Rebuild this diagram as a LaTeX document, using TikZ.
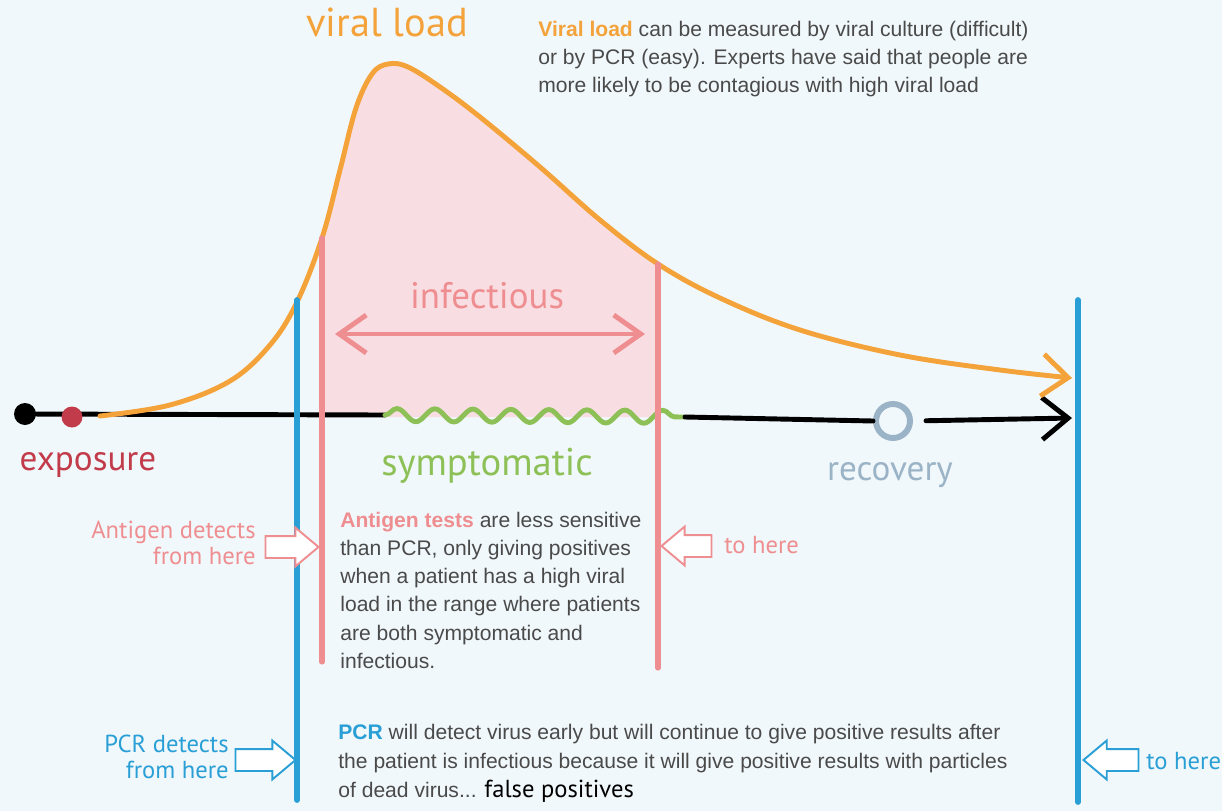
\documentclass[tikz,border=0pt]{standalone}
\usepackage{fontspec}
\setmainfont{Liberation Sans}
\newfontfamily\hand{PT Sans}
\usetikzlibrary{arrows.meta,shapes.arrows,decorations.pathmorphing}
\definecolor{bgc}{HTML}{F1F8FB}
\definecolor{vorange}{HTML}{F4A23A}
\definecolor{pinkl}{HTML}{EF8E91}
\definecolor{pinkf}{HTML}{F8DEE3}
\definecolor{bluel}{HTML}{2A9FD6}
\definecolor{greenw}{HTML}{8DC158}
\definecolor{expred}{HTML}{C23B4A}
\definecolor{recov}{HTML}{9BB3C6}
\definecolor{txt}{HTML}{4A4A4A}
\begin{document}
\begin{tikzpicture}[x=0.02cm,y=-0.02cm,
  tline/.style={line width=2.8pt, line cap=round, black},
  barb/.style={-{Straight Barb[length=5.2mm,width=8.4mm]}},
  vline/.style={line width=2.9pt, line cap=round},
  hand/.style={font=\hand\fontsize{#1}{#1}\selectfont, inner sep=0pt},
  body/.style={font=\fontsize{12}{16}\selectfont, text=txt, align=left, inner sep=0pt, anchor=north west},
  blockarrow/.style={single arrow, draw=#1, fill=white, line width=1.1pt, inner xsep=0pt, inner ysep=2mm,
    minimum width=7.4mm, single arrow head extend=1.7mm, single arrow tip angle=80, anchor=tip}
]
% background
\fill[bgc] (0,0) rectangle (1222,811);
\useasboundingbox (0,0) rectangle (1222,811);

% infectious fill under the curve
\begin{scope}
\clip (322,0) rectangle (658,417);
\fill[pinkf] plot[smooth, tension=0.6] coordinates {(100,416) (170,405) (230,381) (270,345) (297,302) (322,238) (340,170) (356,108) (372,74) (388,64) (408,67) (440,87) (480,117) (540,167) (600,220) (658,264) (720,298) (800,330) (900,355) (1000,370) (1072,378)} -- (1072,417) -- (100,417) -- cycle;
\end{scope}

% timeline
\node[circle, fill=black, minimum size=4.4mm, inner sep=0pt] (start) at (25,414) {};
\coordinate (symA) at (385,415);
\coordinate (symB) at (685,417);
\coordinate (tlend) at (1072,418);
\node[circle, draw=recov, line width=3.4pt, minimum size=6.8mm, inner sep=0pt] (rec) at (893,421) {};
\draw[tline] (start.center) -- (symA);
\node[circle, fill=expred, minimum size=4.2mm, inner sep=0pt] (exp) at (72,417) {};
\draw[greenw, line width=2.8pt, line cap=round, decorate, decoration={snake, segment length=7.6mm, amplitude=1.3mm}] (symA) -- (symB);
\draw[tline] (symB) -- (rec.west);
\draw[tline, barb, shorten <=2.6mm] (rec.east) -- (tlend);

% viral load curve
\coordinate (vend) at (1072,378);
\draw[vorange, line width=2.8pt, line cap=round, barb] plot[smooth, tension=0.6] coordinates {(100,416) (170,405) (230,381) (270,345) (297,302) (322,238) (340,170) (356,108) (372,74) (388,64) (408,67) (440,87) (480,117) (540,167) (600,220) (658,264) (720,298) (800,330) (900,355) (1000,370) (vend)};

% infectious bounds
\coordinate (pinkAt) at (322,238);
\coordinate (pinkAb) at (322,662);
\coordinate (pinkBt) at (658,264);
\coordinate (pinkBb) at (658,668);
\draw[vline, pinkl] (pinkAt) -- (pinkAb);
\draw[vline, pinkl] (pinkBt) -- (pinkBb);

% infectious arrow
\coordinate (infL) at (335,334);
\coordinate (infR) at (645,334);
\draw[pinkl, line width=2.8pt, line cap=round, {Straight Barb[length=5.4mm,width=7.6mm]}-{Straight Barb[length=5.4mm,width=7.6mm]}] (infL) -- (infR);

% PCR bounds
\coordinate (blueAt) at (297,300);
\coordinate (blueAb) at (297,800);
\coordinate (blueBt) at (1078,300);
\coordinate (blueBb) at (1078,802);
\draw[vline, bluel, line width=3.3pt] (blueAt) -- (blueAb);
\draw[vline, bluel, line width=3.3pt] (blueBt) -- (blueBb);

% labels
\node[hand=23, text=vorange, anchor=base] (lvl) at (387,37) {viral load};
\node[hand=21, text=pinkl, anchor=base] (linf) at (487,308) {infectious};
\node[hand=20, text=expred, anchor=base] (lexp) at (88,470) {exposure};
\node[hand=22, text=greenw, anchor=base] (lsym) at (487,475) {symptomatic};
\node[hand=20, text=recov, anchor=base] (lrec) at (890,480) {recovery};

% block arrows
\node[blockarrow=pinkl, minimum height=10.6mm] (agfrom) at (320,547) {};
\node[blockarrow=pinkl, minimum height=10mm, shape border rotate=180] (agto) at (660,546) {};
\node[blockarrow=bluel, minimum height=12mm] (pcrfrom) at (297,760) {};
\node[blockarrow=bluel, minimum height=11mm, shape border rotate=180] (pcrto) at (1082,760) {};

\node[hand=14, text=pinkl, align=right, anchor=east] (lagfrom) at (256,543) {Antigen detects\\[1pt]from here};
\node[hand=14, text=pinkl, anchor=west] (lagto) at (724,545) {to here};
\node[hand=14, text=bluel, align=right, anchor=east] (lpcrfrom) at (229,757) {PCR detects\\[1pt]from here};
\node[hand=14, text=bluel, anchor=west] (lpcrto) at (1146,761) {to here};

% body texts
\node[body] (tvl) at (538,21) {\textcolor{vorange}{\textbf{Viral load}} can be measured by viral culture (difficult)\\or by PCR (easy). Experts have said that people are\\more likely to be contagious with high viral load};
\node[body] (tag) at (340,512) {\textcolor{pinkl}{\textbf{Antigen tests}} are less sensitive\\than PCR, only giving positives\\when a patient has a high viral\\load in the range where patients\\are both symptomatic and\\infectious.};
\node[body, font=\fontsize{12}{16.6}\selectfont] (tpcr) at (338,724) {\textcolor{bluel}{\textbf{PCR}} will detect virus early but will continue to give positive results after\\the patient is infectious because it will give positive results with particles\\of dead virus... {\hand\fontsize{14}{14}\selectfont\color{black}false positives}};
\end{tikzpicture}
\end{document}
